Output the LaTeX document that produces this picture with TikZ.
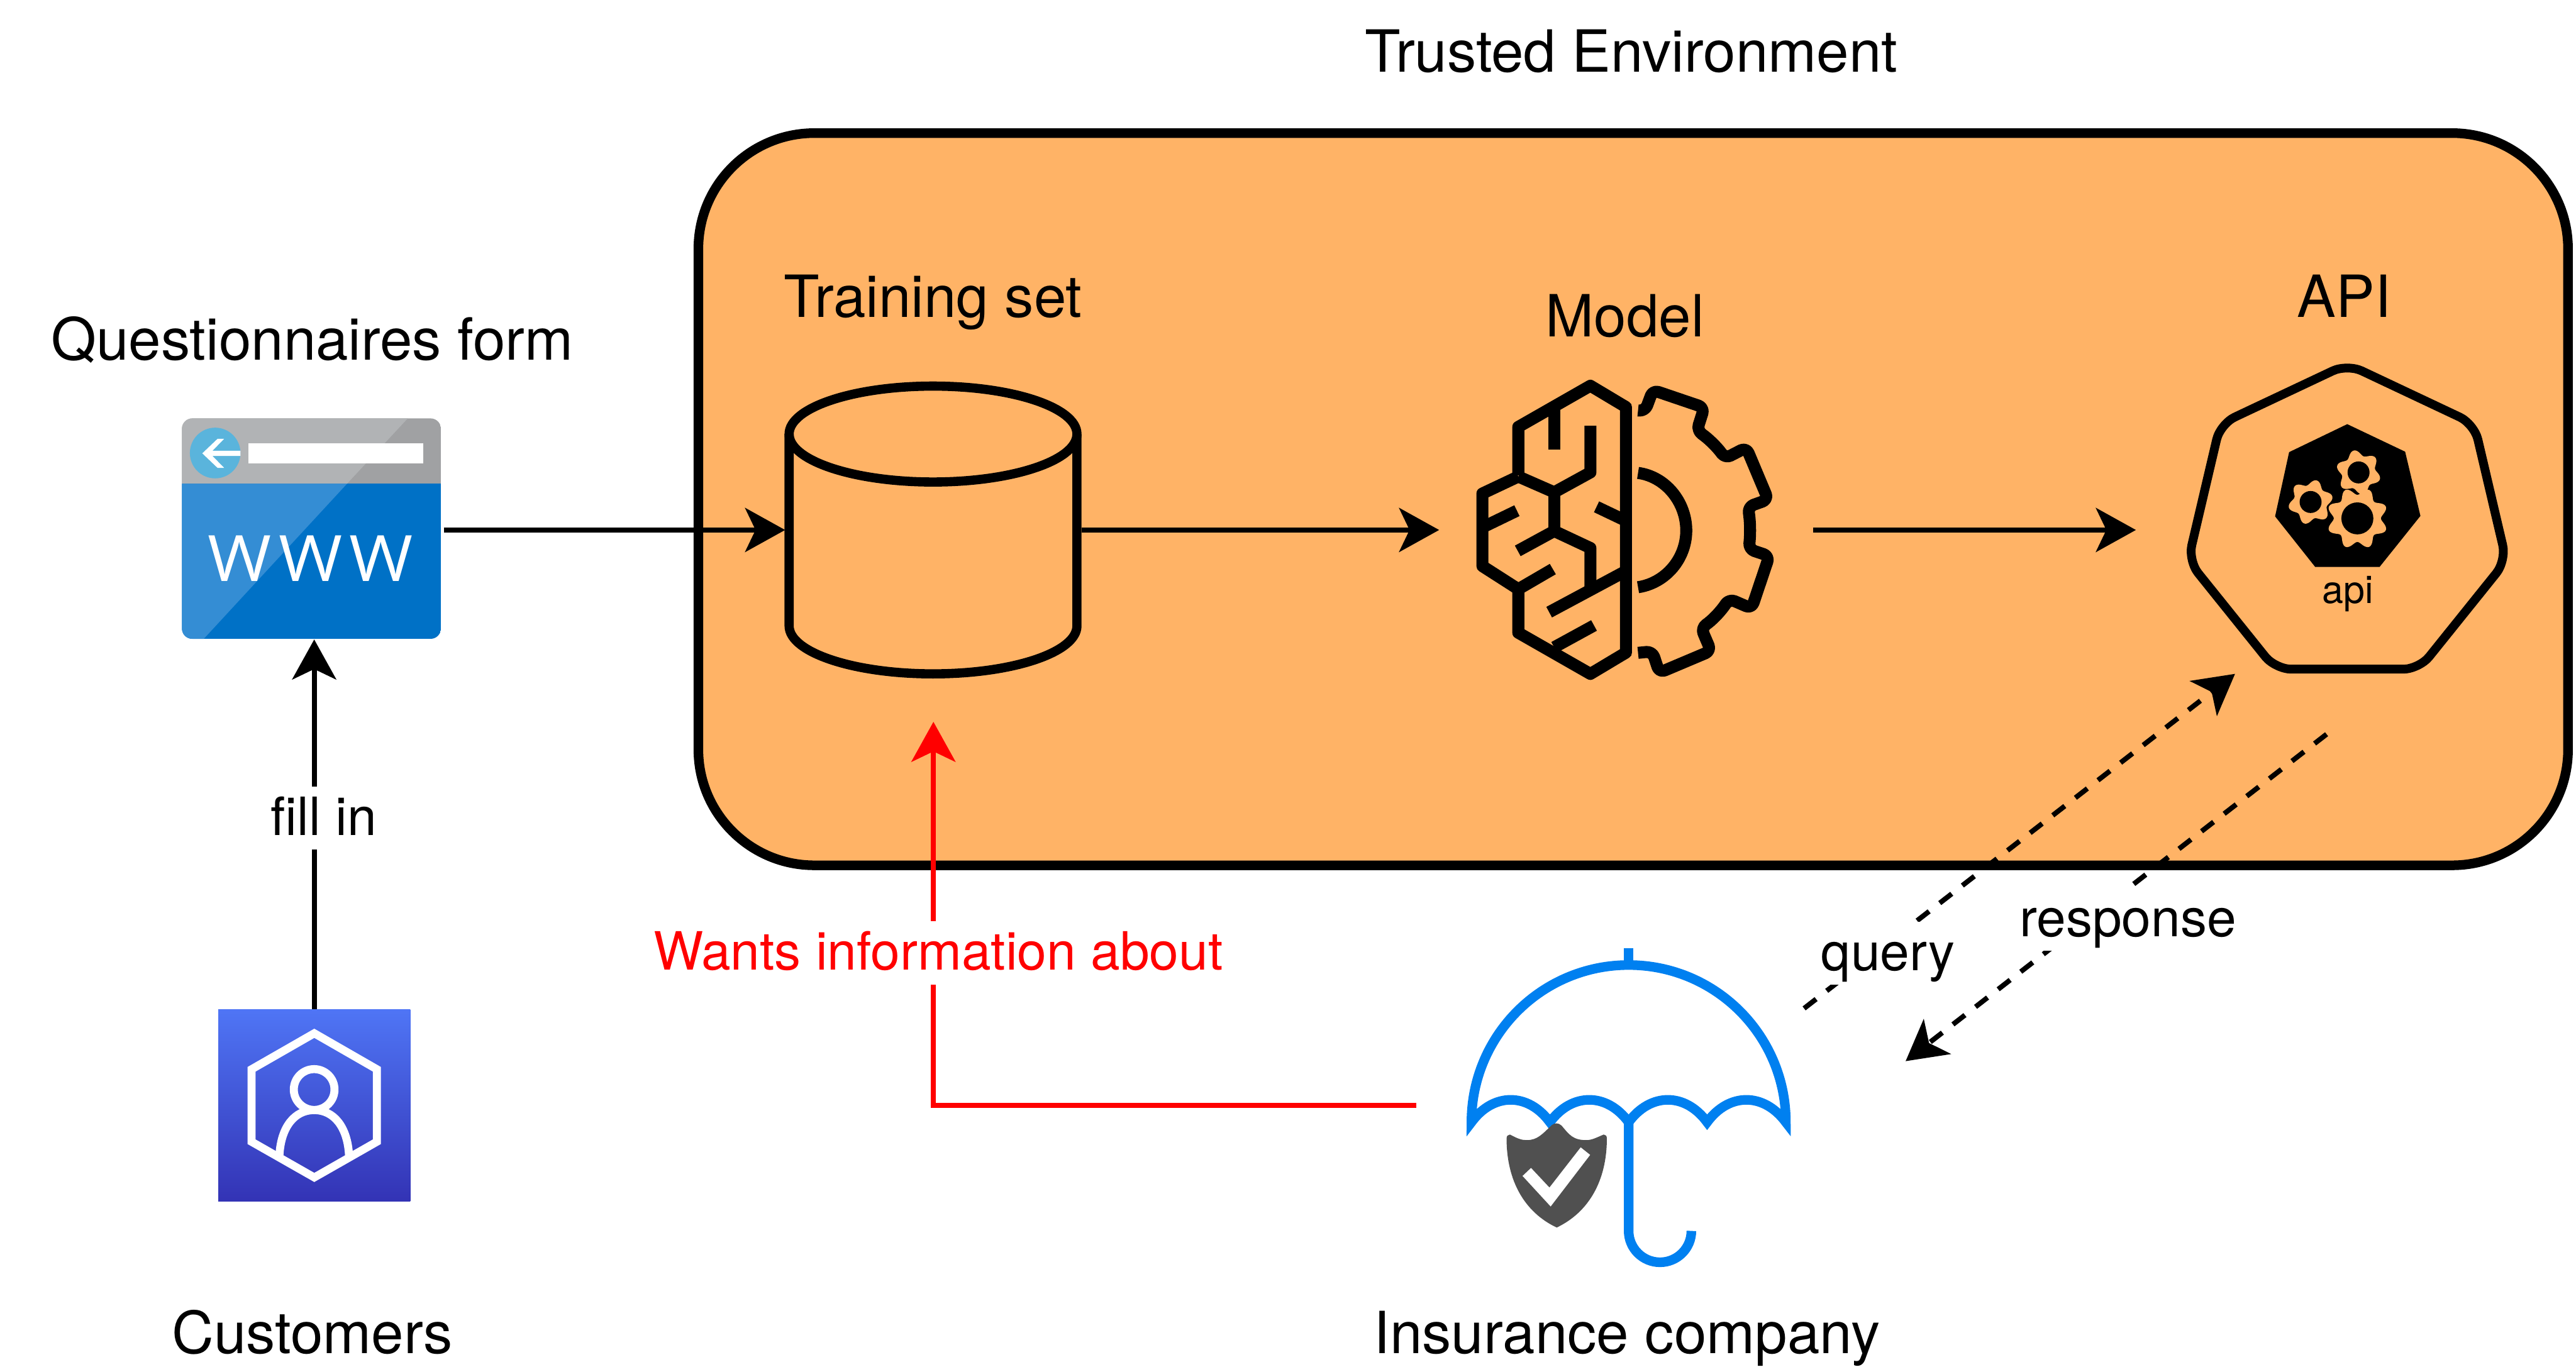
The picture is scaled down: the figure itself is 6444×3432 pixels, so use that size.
\documentclass[tikz,border=0pt]{standalone}
\usepackage{fontspec}
\setmainfont{TeX Gyre Heros}
\newfontfamily\wwwfont[LetterSpace=10.2]{Open Sans}
\usetikzlibrary{arrows.meta,shapes.geometric}
\definecolor{boxorange}{HTML}{FFB366}
\definecolor{umblue}{HTML}{0080F0}
\definecolor{shieldgray}{HTML}{505050}
\tikzset{
  label text/.style={font=\fontsize{14.55pt}{17pt}\selectfont,anchor=base,inner sep=0pt},
  edge label/.style={font=\fontsize{13.2pt}{16pt}\selectfont,fill=white,anchor=base,inner ysep=0pt,inner xsep=1pt,text height=12.2pt,text depth=3.6pt},
  anchorbox/.style={inner sep=0pt,outer sep=0pt,draw=none},
  tip/.style={-{Stealth[length=10pt,width=11pt,inset=2.6pt]}},
  link/.style={tip,line width=1.25pt},
  dashlink/.style={link,dash pattern=on 3.8pt off 3.36pt},
}
\newcommand{\apigear}[7]{%
  \fill[boxorange] plot[domain=0:360,samples=181,variable=\t]
    ({#1+(#3+#4*cos(#5*(\t-#6)))*cos(\t)},{#2-(#3+#4*cos(#5*(\t-#6)))*sin(\t)}) -- cycle;
  \fill[black] (#1,#2) circle[radius=#7];}
\begin{document}
\begin{tikzpicture}[x=0.1pt,y=-0.1pt]
\useasboundingbox (0,0) rectangle (6444,3432);

% trusted environment
\draw[line width=2.4pt,fill=boxorange,rounded corners=29pt] (1747,333) rectangle (6424,2165);

% anchor boxes for connector ends
\node[anchorbox,minimum width=64.8pt,minimum height=54.8pt] (www) at (786,1326) {};
\node[anchorbox,minimum width=74.2pt,minimum height=96pt] (train) at (2335,1326) {};
\node[anchorbox,minimum width=93.6pt,minimum height=60pt] (model) at (4068,1326) {};
\node[anchorbox,minimum width=105.8pt,minimum height=80pt] (api) at (5872,1326) {};
\node[anchorbox,minimum width=48pt,minimum height=48pt] (cust) at (786,2766) {};
\node[anchorbox,minimum width=105.4pt,minimum height=80pt] (ins) at (4070,2766) {};
\coordinate (qs) at (4513,2523);
\coordinate (qe) at (5591,1686);
\coordinate (rs) at (5820,1837);
\coordinate (re) at (4767,2655);

% connectors
\draw[link] (www.east) -- (train.west);
\draw[link] (train.east) -- (model.west);
\draw[link] (model.east) -- (api.west);
\draw[link] (cust.north) -- (www.south);
\draw[link,red] (ins.west) -| (train.south);
\draw[dashlink] (qs) -- (qe);
\draw[dashlink] (rs) -- (re);

% training set cylinder
\draw[line width=2.3pt] (1974,1086) -- (1974,1566) arc[start angle=180,end angle=0,x radius=360,y radius=120] -- (2694,1086);
\draw[line width=2.3pt] (2334,1086) circle[x radius=360,y radius=120];

% brain and gear
\begin{scope}[shift={(3500,850)},x=0.07015pt,y=-0.06059pt,line width=3pt,line join=round]
  \draw (425,560) -- (425,360) -- (682,190) -- (809,278) -- (809,1292) -- (682,1380) -- (425,1210) -- (425,1030);
  \draw (425,565) -- (297,635) -- (297,935) -- (425,1030) -- (548,947);
  \draw (425,565) -- (553,630) -- (682,548) -- (682,355);
  \draw (553,285) -- (553,453);
  \draw (553,630) -- (553,790);
  \draw (423,872) -- (553,790) -- (682,860) -- (682,1020);
  \draw (297,775) -- (420,706);
  \draw (704,690) -- (809,748);
  \draw (535,1125) -- (809,955);
  \draw (553,1270) -- (695,1180);
  \draw[rounded corners=1.5pt] (852,292) -- (877,295) -- (905,208) -- (1088,280) -- (1062,375)
     .. controls (1105,410) and (1135,445) .. (1163,490)
     -- (1238,445) -- (1316,660) -- (1244,690)
     .. controls (1252,750) and (1253,800) .. (1247,865)
     -- (1320,893) -- (1257,1110) -- (1177,1070)
     .. controls (1145,1125) and (1115,1160) .. (1077,1190)
     -- (1112,1285) -- (928,1375) -- (903,1287) -- (852,1293);
  \draw (852,550) .. controls (950,565) and (1024,670) .. (1024,788)
     .. controls (1024,905) and (950,1005) .. (852,1022);
\end{scope}

% api heptagon
\begin{scope}[shift={(5350,850)},x=0.06378pt,y=-0.0574pt]
  \draw[line width=2.2pt,rounded corners=4pt] (818,106) -- (1316,367) -- (1442,963) -- (1100,1436) -- (536,1436) -- (194,963) -- (320,367) -- cycle;
  \fill (818,368) -- (1045,488) -- (1105,768) -- (945,990) -- (692,990) -- (535,770) -- (590,490) -- cycle;
\end{scope}
\apigear{5780}{1256}{49}{7}{6}{14}{27.5}
\apigear{5900}{1182}{49}{7}{6}{-18}{27.5}
\apigear{5897}{1297}{68}{9}{8}{22.5}{40}
\node[font=\fontsize{9.6pt}{11pt}\selectfont,anchor=base,inner sep=0pt] (apitext) at (5873,1510) {api};

% umbrella and shield
\begin{scope}[shift={(3550,2300)},x=0.0606pt,y=-0.0606pt,umblue,line width=2.4pt]
  \draw (865,120) -- (865,190);
  \draw[line join=miter,miter limit=20] (216,838) arc[start angle=180,end angle=360,radius=649]
    .. controls (1423,715) and (1279,715) .. (1189,838)
    .. controls (1099,715) and (955,715) .. (865,838)
    .. controls (775,715) and (630,715) .. (540,838)
    .. controls (450,715) and (306,715) .. (216,838) -- cycle;
  \draw (865,830) -- (865,1287) arc[start angle=180,end angle=0,radius=129.5];
  \fill[shieldgray] (375,889) .. controls (410,908) and (425,912) .. (445,912)
    .. controls (490,912) and (510,885) .. (548,850) .. controls (560,840) and (575,840) .. (588,852)
    .. controls (620,890) and (635,912) .. (690,912) .. controls (715,912) and (735,900) .. (762,889)
    .. controls (770,889) and (775,895) .. (775,905) .. controls (775,1080) and (700,1210) .. (568,1273)
    .. controls (435,1210) and (361,1080) .. (361,905) .. controls (361,895) and (367,889) .. (375,889) -- cycle;
  \fill[white] (427,1060) -- (462,1027) -- (538,1108) -- (667,942) -- (706,973) -- (543,1186) -- cycle;
\end{scope}

% www icon
\begin{scope}[shift={(400,1000)},x=0.05102pt,y=-0.04145pt]
  \begin{scope}
    \clip[rounded corners=2.6pt] (108,113) rectangle (1378,1444);
    \fill[color={rgb,255:red,160;green,161;blue,163}] (108,113) rectangle (1378,508);
    \fill[color={rgb,255:red,0;green,113;blue,198}] (108,508) rectangle (1378,1444);
    \fill[color={rgb,255:red,177;green,179;blue,181}] (108,113) -- (1215,113) -- (917,508) -- (108,508) -- cycle;
    \fill[color={rgb,255:red,52;green,141;blue,212}] (108,508) -- (917,508) -- (215,1444) -- (108,1444) -- cycle;
  \end{scope}
  \fill[color={rgb,255:red,90;green,180;blue,220}] (271,322) circle[x radius=124,y radius=153];
  \fill[white] (434,263) rectangle (1290,385);
  \fill[white] (395,308) -- (258,308) -- (315,236) -- (283,236) -- (208,324) -- (283,412) -- (315,412) -- (258,340) -- (395,340) -- cycle;
\end{scope}
\node[font=\wwwfont\fontsize{17.2pt}{19pt}\selectfont,text=white,anchor=base,inner sep=0pt,yscale=.93,transform shape] (wwwtext) at (777,1454) {WWW};

% customers icon
\begin{scope}[shift={(500,2480)},x=0.03827pt,y=-0.03571pt]
  \shade[top color={rgb,255:red,79;green,117;blue,245},bottom color={rgb,255:red,51;green,51;blue,181}] (120,129) rectangle (1375,1472);
  \begin{scope}[white,line width=2pt,line join=miter]
    \draw (748,295) -- (1157,547) -- (1157,1055) -- (748,1305) -- (338,1055) -- (338,547) -- cycle;
    \draw (747,689) circle[x radius=133,y radius=143];
    \draw (520,1150) .. controls (530,950) and (620,833) .. (747,833) .. controls (875,833) and (965,950) .. (975,1150);
  \end{scope}
\end{scope}

% labels
\node[edge label] (fill) at (810,2090) {fill in};
\node[edge label,text=red] (wants) at (2347,2427) {Wants information about};
\node[edge label] (query) at (4723,2428) {query};
\node[edge label] (resp) at (5323,2343) {response};
\node[label text] (t1) at (4081,180) {Trusted Environment};
\node[label text] (t2) at (781,901) {Questionnaires form};
\node[label text] (t3) at (2334,793) {Training set};
\node[label text] (t4) at (4065,842) {Model};
\node[label text] (t5) at (5864,793) {API};
\node[label text] (t6) at (781,3386) {Customers};
\node[label text] (t7) at (4070,3386) {Insurance company};
\end{tikzpicture}
\end{document}
